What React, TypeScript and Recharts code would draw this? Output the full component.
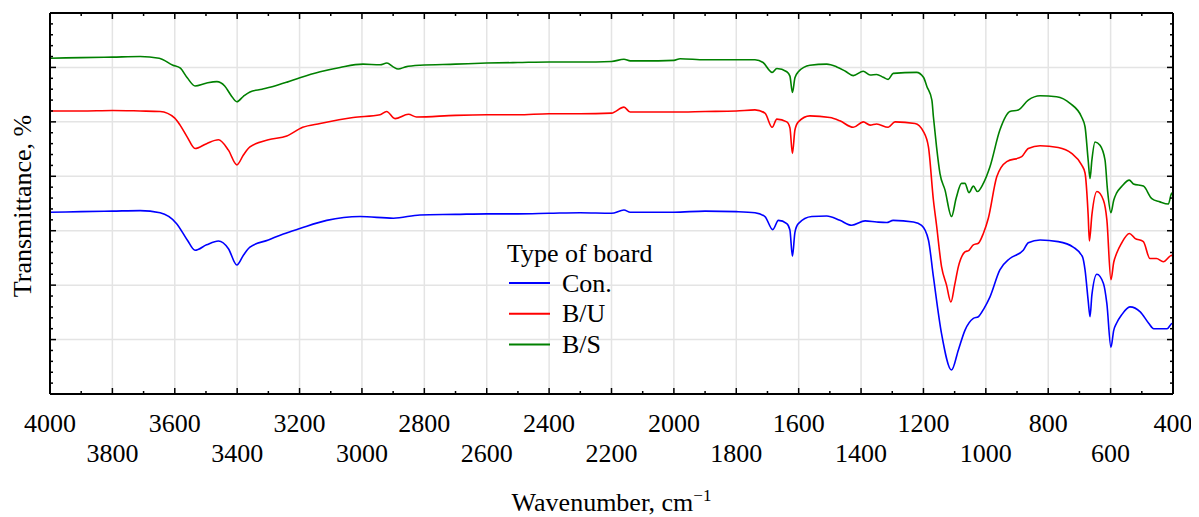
import { LineChart, Line, XAxis, YAxis, CartesianGrid, Legend, Label } from 'recharts';

// FTIR spectra, [wavenumber cm-1, transmittance]
const conSpectrum = [
  [4000, 33.4], [3900, 33.5], [3800, 33.6], [3711, 33.7], [3647, 33.3], [3594, 31.3], [3560, 28.3],
  [3535, 26.4], [3498, 27.4], [3460, 28.1], [3428, 26.7], [3401, 23.7], [3380, 25.5], [3359, 27.0],
  [3300, 28.3], [3252, 29.4], [3199, 30.4], [3113, 31.9], [3006, 32.6], [2899, 32.3], [2814, 32.9],
  [2700, 33.0], [2600, 33.1], [2500, 33.1], [2400, 33.2], [2300, 33.3], [2200, 33.2], [2160, 33.8],
  [2140, 33.4], [2000, 33.4], [1900, 33.6], [1800, 33.5], [1740, 33.3], [1708, 32.6], [1683, 30.2],
  [1665, 31.9], [1638, 31.3], [1628, 30.1], [1620, 25.3], [1612, 29.7], [1601, 31.3], [1558, 32.6],
  [1510, 32.7], [1468, 31.9], [1430, 31.0], [1387, 31.8], [1350, 31.6], [1318, 31.5], [1297, 31.9],
  [1232, 31.6], [1206, 31.0], [1184, 28.3], [1168, 21.5], [1142, 11.1], [1110, 4.4], [1088, 8.1],
  [1067, 11.7], [1040, 13.9], [1024, 14.2], [1006, 15.7], [987, 17.8], [955, 22.8], [923, 24.9],
  [880, 26.4], [864, 27.8], [826, 28.3], [768, 28.0], [720, 27.0], [690, 25.2], [682, 22.8],
  [672, 17.2], [666, 14.2], [660, 18.2], [644, 22.0], [623, 20.3], [612, 16.6], [599, 8.6],
  [590, 11.7], [581, 13.0], [565, 14.5], [538, 16.0], [505, 15.1], [478, 13.0], [462, 12.0],
  [419, 12.0], [402, 13.0], [400, 12.6],
];

const buSpectrum = [
  [4000, 52.0], [3900, 52.0], [3800, 52.1], [3711, 52.0], [3647, 51.9], [3600, 50.7], [3583, 49.4],
  [3560, 47.2], [3535, 45.1], [3498, 46.0], [3460, 46.7], [3428, 44.8], [3401, 42.1], [3380, 43.9],
  [3359, 45.4], [3300, 46.7], [3241, 47.4], [3190, 49.0], [3134, 49.7], [3028, 50.8], [2942, 51.3],
  [2921, 51.9], [2894, 50.6], [2851, 51.4], [2825, 50.9], [2700, 51.2], [2600, 51.3], [2500, 51.3],
  [2400, 51.5], [2300, 51.5], [2200, 51.6], [2160, 52.7], [2140, 51.8], [2000, 51.8], [1900, 51.9],
  [1800, 52.0], [1740, 52.2], [1708, 51.6], [1685, 49.0], [1670, 50.5], [1638, 50.0], [1628, 48.9],
  [1620, 44.2], [1612, 48.5], [1601, 50.0], [1564, 51.1], [1500, 50.8], [1468, 50.2], [1425, 49.0],
  [1393, 50.0], [1371, 49.4], [1350, 49.6], [1313, 49.0], [1291, 50.0], [1227, 49.7], [1200, 48.2],
  [1184, 45.4], [1168, 35.6], [1158, 31.0], [1142, 23.4], [1126, 20.0], [1112, 16.9], [1100, 20.0],
  [1088, 23.4], [1067, 26.1], [1054, 26.4], [1040, 27.4], [1024, 27.7], [1008, 29.5], [992, 32.3],
  [965, 39.9], [933, 42.7], [885, 43.6], [864, 45.1], [826, 45.6], [768, 45.3], [725, 44.2],
  [693, 42.1], [682, 40.6], [672, 32.9], [668, 28.1], [660, 32.9], [644, 37.2], [623, 35.6],
  [612, 32.0], [599, 21.0], [590, 24.2], [581, 25.8], [565, 27.7], [540, 29.5], [522, 28.6],
  [495, 28.0], [474, 24.9], [453, 24.9], [431, 24.3], [404, 25.5], [400, 25.1],
];

const bsSpectrum = [
  [4000, 61.7], [3900, 61.8], [3800, 61.9], [3711, 62.0], [3650, 61.7], [3606, 60.4], [3583, 59.9],
  [3560, 58.1], [3535, 56.6], [3500, 57.1], [3465, 57.4], [3440, 56.6], [3420, 54.9], [3401, 53.7],
  [3380, 54.7], [3359, 55.5], [3320, 56.0], [3285, 56.5], [3240, 57.3], [3199, 58.1], [3134, 59.2],
  [3070, 60.0], [2997, 60.6], [2942, 60.5], [2920, 60.8], [2900, 60.1], [2884, 59.7], [2860, 60.1],
  [2814, 60.4], [2700, 60.6], [2600, 60.8], [2500, 60.9], [2400, 61.0], [2300, 61.0], [2200, 61.1],
  [2160, 61.5], [2140, 61.2], [2100, 61.2], [2000, 61.3], [1980, 61.6], [1900, 61.4], [1800, 61.4],
  [1740, 61.4], [1714, 60.9], [1685, 59.1], [1670, 59.8], [1638, 59.2], [1628, 58.4], [1620, 55.4],
  [1612, 58.1], [1601, 59.2], [1564, 60.4], [1510, 60.6], [1478, 60.1], [1450, 59.3], [1425, 58.5],
  [1393, 59.3], [1371, 58.6], [1350, 58.7], [1329, 58.2], [1313, 57.8], [1297, 58.9], [1222, 59.1],
  [1200, 58.2], [1189, 56.5], [1173, 54.0], [1168, 50.9], [1158, 45.4], [1147, 40.5], [1131, 37.5],
  [1110, 32.6], [1095, 36.0], [1078, 38.7], [1067, 38.7], [1054, 37.0], [1040, 38.2], [1027, 37.2],
  [1008, 38.7], [987, 41.7], [955, 48.5], [923, 51.9], [896, 52.2], [864, 54.0], [826, 54.8],
  [773, 54.6], [730, 53.4], [693, 50.9], [682, 49.1], [672, 43.0], [666, 39.6], [660, 43.0],
  [650, 46.3], [634, 45.7], [618, 43.0], [610, 37.5], [599, 33.3], [590, 35.6], [581, 36.9],
  [565, 38.1], [540, 39.3], [527, 38.6], [495, 38.2], [468, 35.9], [442, 35.3], [415, 34.9],
  [404, 36.9], [400, 36.4],
];

const series = [
  { name: 'Con.', color: '#0000ff', points: conSpectrum },
  { name: 'B/U', color: '#ff0000', points: buSpectrum },
  { name: 'B/S', color: '#008000', points: bsSpectrum },
];

const xTicks = [4000, 3800, 3600, 3400, 3200, 3000, 2800, 2600, 2400, 2200, 2000, 1800, 1600, 1400, 1200, 1000, 800, 600, 400];
const yTicks = [0, 10, 20, 30, 40, 50, 60, 70];

const W = 1183;
const H = 509;
const PLOT_W = 1123;
const PLOT_H = 381;
const textStyle = { fontFamily: 'Liberation Serif, Times New Roman, Times, DejaVu Serif, serif', fontSize: 26, fill: '#000' };
const tickStroke = { stroke: '#000', strokeWidth: 1.5 };

const BottomTick = ({ x, y, payload }: any) => {
  const v = payload.value;
  const upper = (4000 - v) % 400 === 0;
  const half = PLOT_W / 36;
  return (
    <g>
      <line x1={x} y1={y} x2={x} y2={y - 6} {...tickStroke} />
      {v > 400 && <line x1={x + half} y1={y} x2={x + half} y2={y - 3} {...tickStroke} />}
      <text x={x} y={y + (upper ? 38 : 68)} textAnchor="middle" style={textStyle}>
        {v}
      </text>
    </g>
  );
};

const TopTick = ({ x, y, payload }: any) => {
  const v = payload.value;
  const half = PLOT_W / 36;
  return (
    <g>
      <line x1={x} y1={y} x2={x} y2={y + 6} {...tickStroke} />
      {v > 400 && <line x1={x + half} y1={y} x2={x + half} y2={y + 3} {...tickStroke} />}
    </g>
  );
};

const makeYTick = (dir: number) => ({ x, y, payload }: any) => {
  const v = payload.value;
  const step = PLOT_H / 35;
  const minors = v < 70 ? [1, 2, 3, 4] : [];
  return (
    <g>
      <line x1={x} y1={y} x2={x + dir * 6} y2={y} {...tickStroke} />
      {minors.map((k) => (
        <line key={k} x1={x} y1={y - k * step} x2={x + dir * 3} y2={y - k * step} {...tickStroke} />
      ))}
    </g>
  );
};

const LeftTick = makeYTick(1);
const RightTick = makeYTick(-1);

const LegendBox = () => (
  <svg width={200} height={130} style={{ display: 'block' }}>
    <text x={3} y={29} style={textStyle}>Type of board</text>
    {series.map((s, i) => (
      <g key={s.name}>
        <line x1={5} x2={46} y1={50 + i * 30.8} y2={50 + i * 30.8} stroke={s.color} strokeWidth={2} />
        <text x={58} y={59 + i * 30.3} style={textStyle}>{s.name}</text>
      </g>
    ))}
  </svg>
);

export default function App() {
  return (
    <LineChart width={W} height={H} margin={{ top: 0, right: 8, bottom: 43, left: 2 }}>
      <CartesianGrid xAxisId="b" yAxisId="l" stroke="#e4e4e4" strokeWidth={1.5} />
      <XAxis
        xAxisId="b"
        dataKey="w"
        type="number"
        domain={[400, 4000]}
        reversed
        ticks={xTicks}
        interval={0}
        height={80}
        tickSize={0}
        tickMargin={0}
        tickLine={false}
        axisLine={{ stroke: '#000', strokeWidth: 2 }}
        tick={<BottomTick />}
        allowDataOverflow
      >
        <Label
          content={({ viewBox }: any) => (
            <text x={viewBox.x + viewBox.width / 2} y={503} textAnchor="middle" style={textStyle}>
              Wavenumber, cm<tspan dy={-10} style={{ fontSize: 17 }}>−1</tspan>
            </text>
          )}
        />
      </XAxis>
      <XAxis
        xAxisId="t"
        orientation="top"
        dataKey="w"
        type="number"
        domain={[400, 4000]}
        reversed
        ticks={xTicks}
        interval={0}
        height={5}
        tickSize={0}
        tickMargin={0}
        tickLine={false}
        axisLine={{ stroke: '#000', strokeWidth: 2 }}
        tick={<TopTick />}
        allowDataOverflow
      />
      <YAxis
        yAxisId="l"
        type="number"
        domain={[0, 70]}
        ticks={yTicks}
        interval={0}
        width={40}
        tickSize={0}
        tickMargin={0}
        tickLine={false}
        axisLine={{ stroke: '#000', strokeWidth: 2 }}
        tick={<LeftTick />}
        allowDataOverflow
      >
        <Label
          content={() => (
            <text x={23} y={198} transform="rotate(-90 23 198)" textAnchor="middle" style={textStyle}>
              Transmittance, %
            </text>
          )}
        />
      </YAxis>
      <YAxis
        yAxisId="r"
        orientation="right"
        type="number"
        domain={[0, 70]}
        ticks={yTicks}
        interval={0}
        width={10}
        tickSize={0}
        tickMargin={0}
        tickLine={false}
        axisLine={{ stroke: '#000', strokeWidth: 2 }}
        tick={<RightTick />}
        allowDataOverflow
      />
      {series.map((s) => (
        <Line
          key={s.name}
          xAxisId="b"
          yAxisId="l"
          name={s.name}
          data={s.points.map(([w, t]) => ({ w, t }))}
          dataKey="t"
          type="monotone"
          stroke={s.color}
          strokeWidth={1.6}
          dot={false}
          activeDot={false}
          isAnimationActive={false}
        />
      ))}
      <Legend
        layout="horizontal"
        verticalAlign="middle"
        align="center"
        content={<LegendBox />}
        wrapperStyle={{ left: 496, top: 225, width: 200 }}
      />
    </LineChart>
  );
}
